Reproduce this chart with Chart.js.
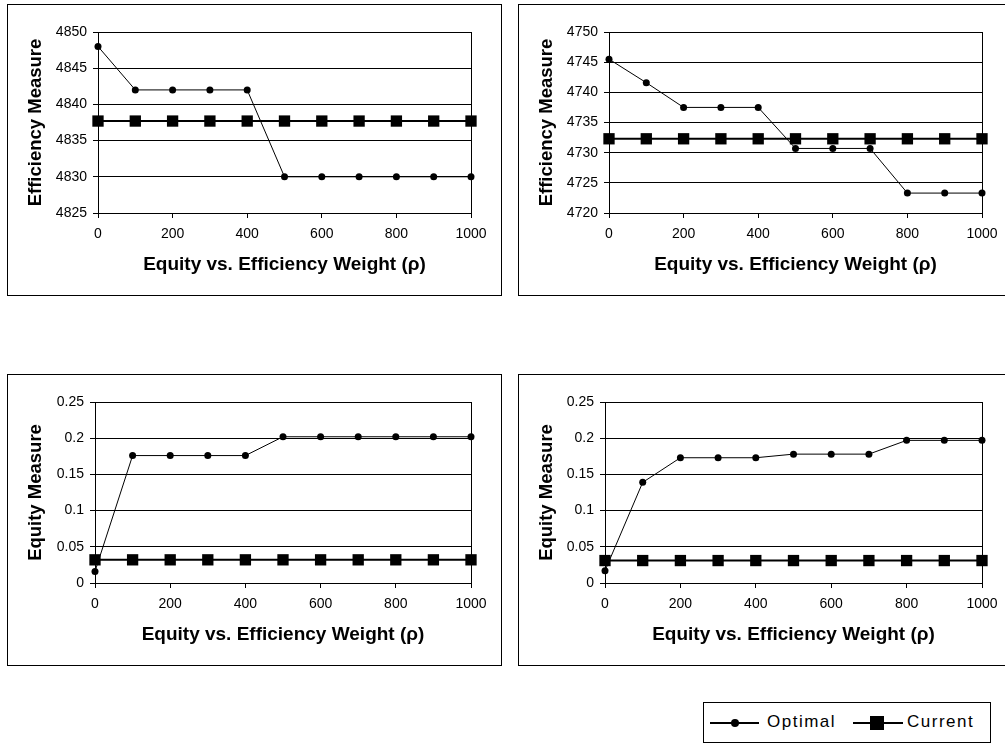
<!DOCTYPE html>
<html>
<head>
<meta charset="utf-8">
<script src="https://cdn.jsdelivr.net/npm/chart.js@4"></script>
<style>
  body { margin: 0; background: #fff; overflow: hidden; width: 1005px; height: 744px; position: relative; }
  .box { position: absolute; border: 1px solid #000; width: 493px; height: 290px; background: #fff; }
  .box canvas { display: block; }
  #legend { position: absolute; left: 703px; top: 702px; width: 286px; height: 39px; border: 1px solid #000;
            font-family: "Liberation Sans", Arial, sans-serif; font-size: 17px; letter-spacing: 1.5px; color: #000; }
  #legend .ln { position: absolute; height: 2px; background: #000; top: 19px; }
  #legend .txt { position: absolute; top: 9px; line-height: 20px; }
</style>
</head>
<body>
<div class="box" style="left:7px;top:4px"><canvas id="c1" width="493" height="290"></canvas></div>
<div class="box" style="left:518px;top:4px"><canvas id="c2" width="493" height="290"></canvas></div>
<div class="box" style="left:7px;top:374px"><canvas id="c3" width="493" height="290"></canvas></div>
<div class="box" style="left:518px;top:374px"><canvas id="c4" width="493" height="290"></canvas></div>

<div id="legend">
  <div class="ln" style="left:6px;width:49px"></div>
  <div style="position:absolute;left:27px;top:16px;width:8px;height:8px;border-radius:50%;background:#000"></div>
  <div class="txt" style="left:63px">Optimal</div>
  <div class="ln" style="left:149px;width:50px"></div>
  <div style="position:absolute;left:166px;top:13px;width:14px;height:14px;background:#000"></div>
  <div class="txt" style="left:203px">Current</div>
</div>

<script>
// equity vs efficiency weight (rho)
const rho = [0, 100, 200, 300, 400, 500, 600, 700, 800, 900, 1000];

// top left: efficiency
const eff1Optimal = [4848, 4842, 4842, 4842, 4842, 4830, 4830, 4830, 4830, 4830, 4830];
const eff1Current = [4837.7, 4837.7, 4837.7, 4837.7, 4837.7, 4837.7, 4837.7, 4837.7, 4837.7, 4837.7, 4837.7];

// top right: efficiency
const eff2Optimal = [4745.5, 4741.6, 4737.5, 4737.5, 4737.5, 4730.7, 4730.7, 4730.7, 4723.3, 4723.3, 4723.3];
const eff2Current = [4732.3, 4732.3, 4732.3, 4732.3, 4732.3, 4732.3, 4732.3, 4732.3, 4732.3, 4732.3, 4732.3];

// bottom left: equity
const eq1Optimal = [0.016, 0.176, 0.176, 0.176, 0.176, 0.202, 0.202, 0.202, 0.202, 0.202, 0.202];
const eq1Current = [0.032, 0.032, 0.032, 0.032, 0.032, 0.032, 0.032, 0.032, 0.032, 0.032, 0.032];

// bottom right: equity
const eq2Optimal = [0.017, 0.139, 0.173, 0.173, 0.173, 0.178, 0.178, 0.178, 0.197, 0.197, 0.197];
const eq2Current = [0.031, 0.031, 0.031, 0.031, 0.031, 0.031, 0.031, 0.031, 0.031, 0.031, 0.031];

const xTitle = "Equity vs. Efficiency Weight (\u03C1)";
const fontFamily = '"Liberation Sans", Arial, sans-serif';

const plotBorder = {
  id: "plotBorder",
  beforeDatasetsDraw(chart) {
    const a = chart.chartArea;
    const ctx = chart.ctx;
    ctx.save();
    ctx.strokeStyle = "#000";
    ctx.lineWidth = 1;
    ctx.strokeRect(Math.round(a.left) + 0.5, Math.round(a.top) + 0.5,
      Math.round(a.right - a.left), Math.round(a.bottom - a.top));
    ctx.restore();
  },
};

function pts(ys) {
  return ys.map((y, i) => ({ x: rho[i], y: y }));
}

function plain(v) {
  return String(Math.round(v * 100) / 100);
}

function makeChart(id, optimal, current, yTitle, yMin, yMax, yStep, leftWidth) {
  return new Chart(document.getElementById(id), {
    type: "line",
    data: {
      datasets: [
        {
          label: "Optimal",
          data: pts(optimal),
          borderColor: "#000",
          backgroundColor: "#000",
          borderWidth: 1,
          pointStyle: "circle",
          pointRadius: 3.5,
          pointBorderWidth: 0,
          clip: false,
        },
        {
          label: "Current",
          data: pts(current),
          borderColor: "#000",
          backgroundColor: "#000",
          borderWidth: 2,
          pointStyle: "rect",
          pointRadius: 8,
          pointBorderWidth: 0,
          clip: false,
        },
      ],
    },
    options: {
      responsive: false,
      animation: false,
      layout: { padding: { top: 27, right: 30, left: 0, bottom: 0 } },
      plugins: { legend: { display: false }, tooltip: { enabled: false } },
      scales: {
        x: {
          type: "linear",
          min: 0,
          max: 1000,
          afterFit: (s) => { s.height = 82; },
          ticks: { stepSize: 200, color: "#000", padding: 8, maxRotation: 0,
                   font: { family: fontFamily, size: 14 }, callback: plain },
          grid: { drawOnChartArea: false, color: "#000", tickLength: 5 },
          border: { color: "#000" },
          title: { display: true, text: xTitle, color: "#000",
                   padding: { top: 0, bottom: 19 },
                   font: { family: fontFamily, size: 19, weight: "bold" } },
        },
        y: {
          min: yMin,
          max: yMax,
          afterFit: (s) => { s.width = leftWidth; },
          ticks: { stepSize: yStep, color: "#000", padding: 6,
                   font: { family: fontFamily, size: 14 }, callback: plain },
          grid: { color: "#000", tickLength: 5 },
          border: { color: "#000" },
          title: { display: true, text: yTitle, color: "#000",
                   padding: { top: 17, bottom: 0 },
                   font: { family: fontFamily, size: 18.5, weight: "bold" } },
        },
      },
    },
    plugins: [plotBorder],
  });
}

makeChart("c1", eff1Optimal, eff1Current, "Efficiency Measure", 4825, 4850, 5, 90);
makeChart("c2", eff2Optimal, eff2Current, "Efficiency Measure", 4720, 4750, 5, 90);
makeChart("c3", eq1Optimal, eq1Current, "Equity Measure", 0, 0.25, 0.05, 87);
makeChart("c4", eq2Optimal, eq2Current, "Equity Measure", 0, 0.25, 0.05, 86);
</script>
</body>
</html>
